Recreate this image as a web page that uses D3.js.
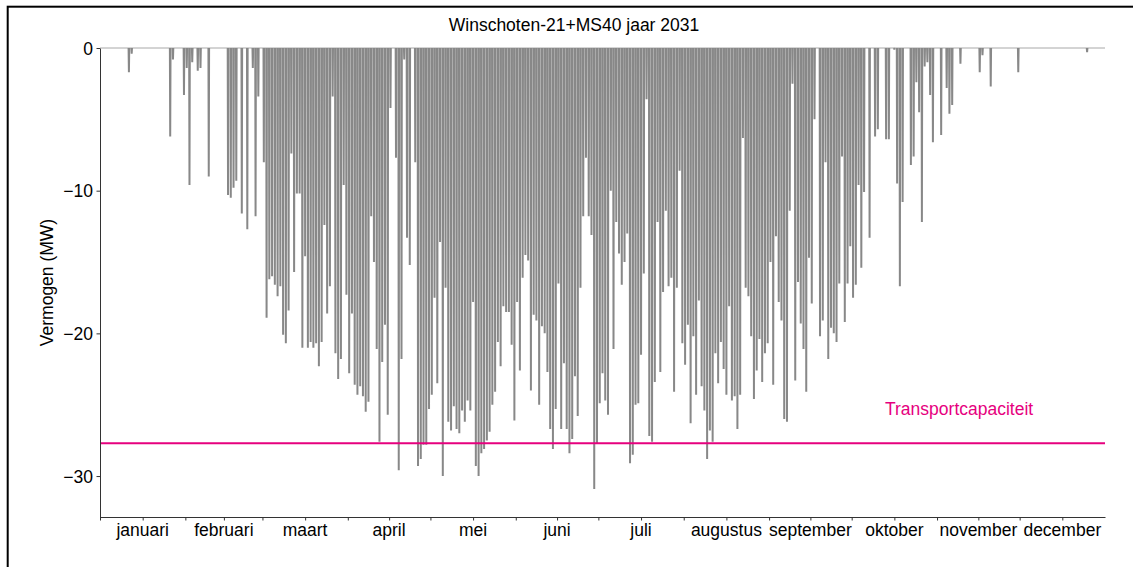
<!DOCTYPE html>
<html>
<head>
<meta charset="utf-8">
<script src="https://cdn.jsdelivr.net/npm/d3@7"></script>
<style>
  body { margin: 0; background: #fff; }
  text { font-family: "Liberation Sans", Arial, sans-serif; fill: #000; }
</style>
</head>
<body>
<div id="chart"></div>
<script>
const year = 2031;
const title = "Winschoten-21+MS40 jaar 2031";
const yLabel = "Vermogen (MW)";
const monthNames = ["januari", "februari", "maart", "april", "mei", "juni",
  "juli", "augustus", "september", "oktober", "november", "december"];
const yTicks = [0, -10, -20, -30];
const capacity = -27.7;
const capacityLabel = "Transportcapaciteit";

// daily peak feed-in (MW), one value per day
const dailyPeak = [
  // jan
  0,0,0,0,0,0,0,0,0,0, -1.7,-0.4, 0,0,0,0,0,0,0,0,0,0,0,0,0, -6.2,-0.8,0,0,0,-3.3,
  // feb
  -1.4,-9.6,-1.0,0,-1.6,-1.4,0,0,-9.0, 0,0,0,0,0,0,
  -10.3,-10.5,-9.8,-9.3,0,-11.6,0,-12.7,0,-1.4,-11.8,-3.4,0,
  // mrt
  -8.0,-18.9,-16.2,-16.0,-16.6,-17.4,-16.7,-20.1,-20.7,-18.4,-7.4,-15.7,-10.2,-10.2,-21.0,-14.6,
  -21.0,-20.6,-21.0,-20.7,-22.3,-20.6,-12.4,-18.6,-16.7,-3.4,-21.4,-23.2,-21.8,-9.6,-17.3,
  // apr
  -22.8,-18.6,-23.6,-24.3,-23.7,-24.4,-25.5,-24.8,-11.8,-15.0,
  -21.1,-27.6,-22.0,-19.4,-25.7,-4.2,0,-7.7,-29.6,-21.8,
  -0.8,-13.3,-15.2,0,-8.0,-29.3,-28.8,-27.8,-27.8,-25.3,
  // mei
  -24.3,-17.5,-23.5,-13.6,-30.0,-16.8,-26.2,-26.8,-25.1,-26.7,
  -27.0,-25.4,-26.2,-24.7,-25.4,-17.8,-29.3,-30.0,-28.4,-28.1,
  -27.5,-26.9,-25.0,-24.1,-20.6,-22.3,-18.1,-18.5,-18.5,-20.8,-26.1,
  // jun
  -17.8,-22.6,-16.1,-14.5,-14.9,-24.0,-18.7,-19.1,-25.0,
  -19.5,-20.0,-22.7,-26.7,-28.1,-25.3,-16.5,-26.7,-22.1,-26.7,
  -28.4,-27.4,-23.0,-25.8,-16.8,-11.8,-7.7,-11.8,-13.1,-30.9,-27.7,
  // jul
  -24.9,-22.8,-24.7,-25.7,-10.0,-21.1,-12.2,-14.4,-16.6,
  -15.0,-13.0,-29.1,-28.5,-25.0,-24.9,-21.5,-15.8,-3.6,-27.2,
  -27.6,-23.4,-12.2,-22.7,-17.1,-11.4,-16.7,-16.1,-24.1,-16.8,-8.6,-20.7,
  // aug
  -22.2,-19.4,-26.3,-20.2,-24.3,-17.7,-23.7,-25.4,
  -28.8,-26.8,-27.6,-21.4,-23.5,-20.6,-22.5,-24.3,-18.1,-24.7,
  -24.4,-26.7,-24.3,-6.3,-16.8,-17.4,-20.2,-24.6,-22.6,-20.4,-23.4,-21.4,-20.7,
  // sep
  -15.0,-23.6,-13.2,-17.8,-19.1,-26.0,-26.2,
  -11.4,-2.5,-23.3,-16.4,-19.3,-21.1,-24.1,-14.7,-17.9,-5.0,
  0,-20.2,-19.1,-8.0,-21.8,-19.6,-20.0,-20.6,-16.5,-7.6,-19.2,-16.5,-13.9,
  // okt
  -17.5,-16.6,-9.6,-15.4,-10.1,0,-13.3,
  0,-6.2,-5.7,0,0,-6.4,-6.4,0,-0.1,-9.5,
  -16.7,-10.8,0,0,-8.2,-7.6,-2.4,-4.5,-12.2,-1.3,-1.0,-3.3,-6.6,0,
  // nov
  0,-6.1,0,-2.8,-4.6,-4.0, 0,0,-1.1,0,0,0,0,0,0,-1.7,
  -0.5,0,0,-2.7,0,0,0,0,0,0, 0,0,0,-1.7,
  // dec
  0,0,0,0,0,0,0,0,0,0,0,0,0,0,0,0,0,0,0,0,0,0,0,0, -0.3, 0,0,0,0,0,0
];

const width = 1133, height = 567;
const margin = {left: 100, right: 28, top: 48, bottom: 50};

const svg = d3.select("#chart").append("svg")
  .attr("width", width)
  .attr("height", height);

// outer frame (runs off the picture on the right and bottom)
svg.append("rect")
  .attr("x", 7.7).attr("y", 6.7)
  .attr("width", 1300).attr("height", 800)
  .attr("fill", "none")
  .attr("stroke", "#000")
  .attr("stroke-width", 2);

const start = new Date(Date.UTC(year, 0, 1));
const end = new Date(Date.UTC(year + 1, 0, 1));
const dayDate = d => new Date(start.getTime() + d * 864e5);

const x = d3.scaleUtc()
  .domain([start, end])
  .range([margin.left, width - margin.right]);
const y = d3.scaleLinear()
  .domain([-32.87, 0])
  .range([height - margin.bottom, margin.top]);

// zero line (night hours)
svg.append("line")
  .attr("x1", x(start)).attr("x2", x(end))
  .attr("y1", y(0)).attr("y2", y(0))
  .attr("stroke", "#a8a8a8")
  .attr("stroke-width", 1);

// each day: zero at night, down to its peak around noon
const days = dailyPeak.map((v, i) => ({i, v})).filter(d => d.v < 0);
const line = d3.line()
  .x(d => x(dayDate(d[0])))
  .y(d => y(d[1]));

svg.append("g")
  .selectAll("path")
  .data(days)
  .join("path")
  .attr("d", d => line([[d.i + 0.38, 0], [d.i + 0.5, d.v], [d.i + 0.62, 0]]))
  .attr("fill", "none")
  .attr("stroke", "#888888")
  .attr("stroke-width", 2);

// transport capacity
svg.append("line")
  .attr("x1", x(start)).attr("x2", x(end))
  .attr("y1", y(capacity)).attr("y2", y(capacity))
  .attr("stroke", "#e6007e")
  .attr("stroke-width", 2);

svg.append("text")
  .attr("x", x(dayDate(285.1)))
  .attr("y", y(-25.72))
  .attr("font-size", 17.5)
  .style("fill", "#e6007e")
  .text(capacityLabel);

// axes
const monthStarts = d3.utcMonth.range(start, end);
const monthMids = monthStarts.map(m => new Date((m.getTime() + d3.utcMonth.offset(m, 1).getTime()) / 2));

const xAxis = svg.append("g")
  .attr("transform", `translate(0,${height - margin.bottom})`)
  .call(d3.axisBottom(x).tickValues(monthStarts.concat(monthMids)).tickSize(3.5).tickSizeOuter(0).tickFormat(""));

xAxis.selectAll(".month")
  .data(monthMids)
  .join("text")
  .attr("class", "month")
  .attr("x", d => x(d))
  .attr("y", 19)
  .attr("text-anchor", "middle")
  .attr("font-size", 17.5)
  .text((d, i) => monthNames[i]);

const yAxis = svg.append("g")
  .attr("transform", `translate(${margin.left},0)`)
  .call(d3.axisLeft(y).tickValues(yTicks).tickSize(3.5).tickSizeOuter(0)
    .tickFormat(d => d < 0 ? "\u2212" + Math.abs(d) : d));

yAxis.selectAll(".tick text")
  .attr("font-size", 17.5)
  .attr("font-family", "Liberation Sans, Arial, sans-serif")
  .attr("x", -7)
  .attr("dy", "0.35em");

svg.selectAll(".domain, .tick line")
  .attr("stroke", "#333")
  .attr("stroke-width", 1);

svg.append("text")
  .attr("transform", `translate(53,${(margin.top + height - margin.bottom) / 2}) rotate(-90)`)
  .attr("text-anchor", "middle")
  .attr("font-size", 17.5)
  .text(yLabel);

svg.append("text")
  .attr("x", 574)
  .attr("y", 31)
  .attr("text-anchor", "middle")
  .attr("font-size", 17.5)
  .text(title);
</script>
</body>
</html>
